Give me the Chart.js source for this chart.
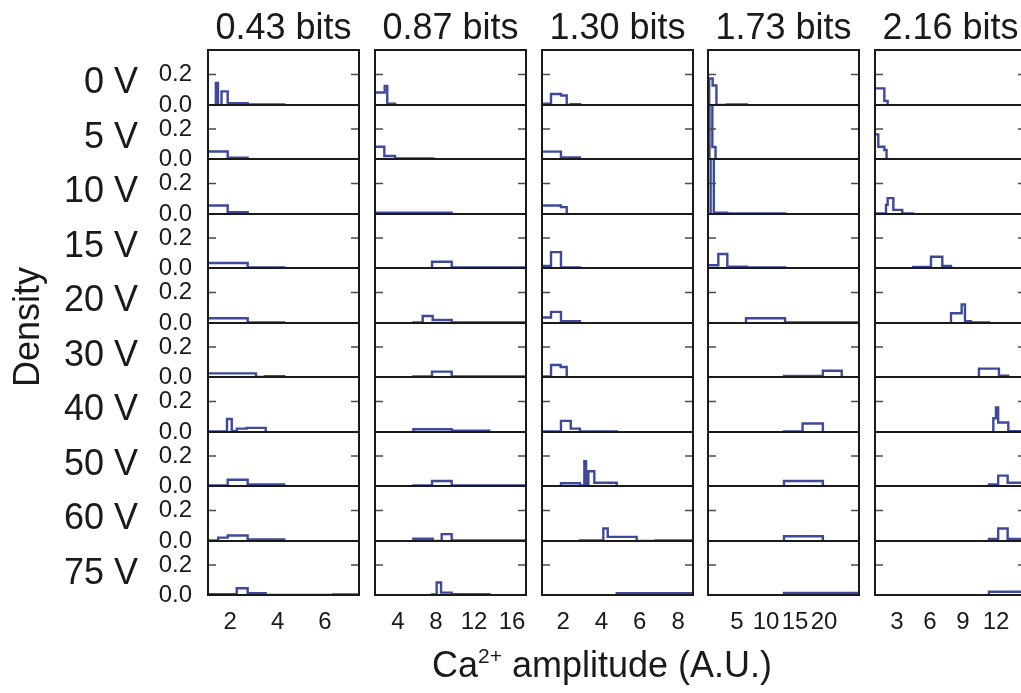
<!DOCTYPE html>
<html><head><meta charset="utf-8">
<script src="https://cdn.jsdelivr.net/npm/chart.js@4"></script>
<style>
html,body{margin:0;padding:0;background:#fff;width:1021px;height:693px;overflow:hidden;position:relative;font-family:"Liberation Sans",Arial,Helvetica,sans-serif;color:#1a1a1a}
canvas{position:absolute}
.t{position:absolute;font-size:36px;line-height:1;white-space:nowrap}
</style></head><body>
<script>
// ---- data ----
const rowLabels = ['0 V','5 V','10 V','15 V','20 V','30 V','40 V','50 V','60 V','75 V'];
const colTitles = ['0.43 bits','0.87 bits','1.30 bits','1.73 bits','2.16 bits'];
const xRanges = [[1.07,7.43],[1.58,17.47],[0.9,8.78],[0,26.03],[1,14.73]];
const xTicks = [[2,4,6],[4,8,12,16],[2,4,6,8],[5,10,15,20],[3,6,9,12]];
const yTicks = [0, 0.2];
const yTickLabels = ['0.0','0.2'];
const yMax = 0.36;

// bin edges and densities, one entry per voltage row
const c1Edges = [
  [1.40,1.49,1.64,1.90,2.74,4.28],
  [1.0,1.9,2.74],
  [1.0,1.9,2.74],
  [1.0,2.74,4.28],
  [1.0,2.74,4.28],
  [1.0,3.09,3.47,4.28],
  [1.0,1.87,2.07,2.28,2.70,3.50],
  [1.0,1.9,2.74,4.28],
  [1.0,1.5,1.9,2.74,4.28],
  [1.0,2.28,2.74,3.5,6.33,7.5]];
const c1Dens = [
  [0.145,0,0.089,0.011,0.004],
  [0.05,0.009],
  [0.056,0.012],
  [0.033,0.004],
  [0.031,0.003],
  [0.024,0,0.006],
  [0.003,0.085,0.006,0.022,0.027],
  [0.004,0.042,0.01],
  [0.003,0.022,0.036,0.01],
  [0.005,0.045,0.012,0,0.003]];

const c2Edges = [
  [1.5,2.6,2.87,3.7],
  [1.5,2.56,3.69,7.72],
  [1.5,9.65],
  [7.58,9.65,17.6],
  [5.62,6.6,7.65,9.65,17.6],
  [5.62,7.58,9.65,17.6],
  [5.62,9.65,13.6],
  [5.62,7.58,9.65,17.6],
  [5.62,7.65,8.6,9.65,17.6],
  [7.58,8.07,8.53,9.65,13.6]];
const c2Dens = [
  [0.082,0.125,0.008],
  [0.082,0.02,0.004],
  [0.009],
  [0.042,0.003],
  [0.003,0.046,0.02,0.003],
  [0.004,0.036,0.003],
  [0.018,0.009],
  [0.004,0.033,0.003],
  [0.015,0,0.045,0.003],
  [0.004,0.083,0.016,0.006]];

const c3Edges = [
  [0.8,1.37,1.89,2.19,2.4,2.88],
  [0.8,1.89,2.88],
  [0.8,1.89,2.19],
  [0.8,1.37,1.89,2.88],
  [0.8,1.37,1.89,2.88],
  [0.8,1.37,1.87,2.19],
  [0.8,1.89,2.4,2.88,4.8],
  [1.89,2.88,3.11,3.2,3.32,3.63,4.8],
  [2.88,4.1,4.33,5.84,6.83,8.9],
  [4.8,8.9]];
const c3Dens = [
  [0.008,0.072,0.062,0,0.005],
  [0.049,0.01],
  [0.056,0.045],
  [0.013,0.106,0.004],
  [0.036,0.073,0.011],
  [0.004,0.08,0.067],
  [0.003,0.073,0.022,0.004],
  [0.018,0.003,0.165,0.01,0.098,0.022],
  [0.004,0.082,0.027,0,0.004],
  [0.012]];

const c4Edges = [
  [0.2,0.8,1.45,3.3,6.7],
  [0.25,0.75,1.3],
  [0.45,1.0,3.3,13.3],
  [-0.5,1.78,3.33,6.7,13.3],
  [6.55,13.28,26.5],
  [13.1,19.8,23.05],
  [13.1,16.3,19.8],
  [13.1,19.8],
  [13.1,19.8],
  [13.1,26.5]];
const c4Dens = [
  [0.173,0.128,0,0.004],
  [0.5,0.08],
  [0.5,0.008,0.003],
  [0.018,0.093,0.009,0.003],
  [0.031,0.003],
  [0.007,0.042],
  [0.004,0.056],
  [0.033],
  [0.031],
  [0.013]];

const c5Edges = [
  [0.9,1.85,2.15],
  [0.9,1.3,1.85,2.05],
  [0.9,2.0,2.15,2.67,3.48,4.48],
  [4.48,6.09,7.12,7.91],
  [7.91,8.88,9.18,9.73,11.36],
  [10.45,12.27,13.12],
  [11.76,12.0,12.2,13.12,15],
  [11.36,12.2,13.06,15],
  [11.36,12.2,13.06,15],
  [11.36,15]];
const c5Dens = [
  [0.109,0.027],
  [0.164,0.082,0.06],
  [0.003,0.06,0.104,0.027,0.004],
  [0.007,0.075,0.013],
  [0.064,0.122,0.011,0.003],
  [0.056,0.009],
  [0.09,0.16,0.062,0.005],
  [0.011,0.069,0.022],
  [0.013,0.082,0.013],
  [0.022]];

// ---- layout / style ----
const EDGES = [c1Edges,c2Edges,c3Edges,c4Edges,c5Edges];
const DENS = [c1Dens,c2Dens,c3Dens,c4Dens,c5Dens];
const colLefts = [208,375,542,708,875];
const PW = 151;
const rowTop = r => Math.round(50 + r*54.5);
const LINE = '#3d4a9b', FRAME = '#1a1a1a', TICKC = '#4a4a4a', TEXT = '#1a1a1a';
const FONT = {family:'"Liberation Sans", Arial, Helvetica, sans-serif', size:24};

const framePlugin = {
  id:'frame',
  afterDatasetsDraw(chart){
    const {ctx, chartArea:a} = chart;
    const y = chart.scales.y;
    ctx.save();
    ctx.strokeStyle = TICKC; ctx.lineWidth = 1.5;
    yTicks.forEach(v => {
      if (v === 0) return;
      const py = y.getPixelForValue(v);
      ctx.beginPath();
      ctx.moveTo(a.left, py); ctx.lineTo(a.left+8, py);
      ctx.moveTo(a.right-8, py); ctx.lineTo(a.right, py);
      ctx.stroke();
    });
    ctx.strokeStyle = FRAME; ctx.lineWidth = 2;
    ctx.strokeRect(a.left, a.top, a.right-a.left, a.bottom-a.top);
    ctx.restore();
  }
};

function panel(c, r){
  const L = colLefts[c], T = rowTop(r), H = rowTop(r+1) - T, W = PW;
  const isLeft = c === 0, isBottom = r === 9;
  const P = 26, AY = isLeft ? 50 : 0, AX = isBottom ? 40 : 0;
  const cv = document.createElement('canvas');
  const cw = P + AY + W + P, ch = P + H + P + AX;
  cv.width = cw; cv.height = ch;
  cv.style.left = (L - P - AY) + 'px'; cv.style.top = (T - P) + 'px';
  cv.style.width = cw + 'px'; cv.style.height = ch + 'px';
  document.body.appendChild(cv);
  const e = EDGES[c][r], d = DENS[c][r];
  // outline points: rise at first edge, each bin's value at its left edge, fall at last edge
  const pts = [{x:e[0], y:0}];
  d.forEach((v,i) => pts.push({x:e[i], y:v}));
  pts.push({x:e[e.length-1], y:0});
  new Chart(cv, {
    type:'line',
    data:{datasets:[{data:pts, stepped:'before', borderColor:LINE, borderWidth:2.4, pointRadius:0, fill:false}]},
    options:{
      responsive:false, animation:false, events:[],
      layout:{padding:P},
      plugins:{legend:{display:false}, tooltip:{enabled:false}, title:{display:false}},
      scales:{
        x:{type:'linear', min:xRanges[c][0], max:xRanges[c][1], display:isBottom,
           grid:{display:false}, border:{display:false},
           ticks:{font:FONT, color:TEXT, padding:5, autoSkip:false, maxRotation:0, minRotation:0, callback:v => String(v)},
           afterBuildTicks:s => { s.ticks = xTicks[c].map(v => ({value:v})); },
           afterFit:s => { s.height = AX; }},
        y:{type:'linear', min:0, max:yMax, display:isLeft,
           grid:{display:false}, border:{display:false},
           ticks:{font:FONT, color:TEXT, padding:8, callback:v => yTickLabels[yTicks.indexOf(v)]},
           afterBuildTicks:s => { s.ticks = yTicks.map(v => ({value:v})); },
           afterFit:s => { s.width = AY; }}
      }
    },
    plugins:[framePlugin]
  });
}

for (let c = 0; c < 5; c++) for (let r = 0; r < 10; r++) panel(c, r);

function addText(html, style){
  const d = document.createElement('div');
  d.className = 't'; d.innerHTML = html;
  Object.assign(d.style, style);
  document.body.appendChild(d);
  return d;
}
colTitles.forEach((t,c) => addText(t, {left:(colLefts[c] + PW/2) + 'px', top:'8.5px', transform:'translateX(-50%)'}));
rowLabels.forEach((t,r) => {
  const base = (rowTop(r) + rowTop(r+1))/2 + 16;
  addText(t, {left:'0px', width:'138px', textAlign:'right', top:(base - 30.5) + 'px'});
});
addText('Density', {left:'26.5px', top:'327px', transform:'translate(-50%,-50%) rotate(-90deg)'});
addText('Ca<span style="font-size:21px;position:relative;top:-14px">2+</span> amplitude (A.U.)', {left:'432px', top:'646.5px'});
</script>
</body></html>
